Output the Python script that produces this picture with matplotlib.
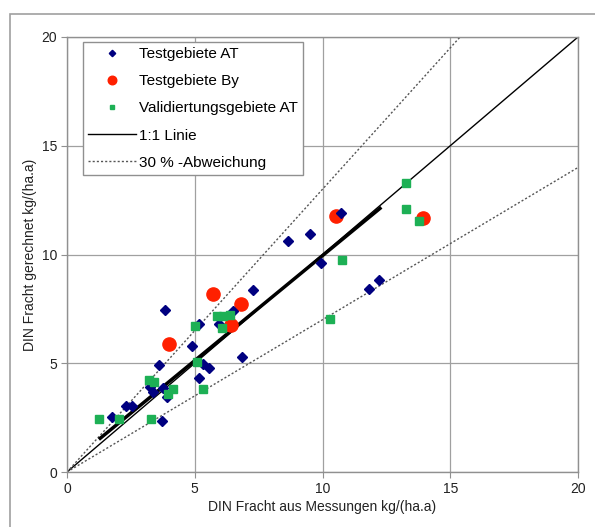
import numpy as np
import matplotlib
matplotlib.use('Agg')
import matplotlib.pyplot as plt
from matplotlib.patches import Rectangle

plt.rcParams['font.family'] = ['Liberation Sans', 'DejaVu Sans']

# Testgebiete AT (blue diamonds)
at_x = [8.66, 9.50, 7.29, 3.84, 6.51, 5.18, 5.95, 4.90, 6.86, 3.60, 5.34, 5.56,
        5.17, 3.77, 3.25, 3.38, 3.93, 2.30, 2.56, 1.77, 3.71, 10.72, 9.93, 12.22, 11.83]
at_y = [10.60, 10.93, 8.37, 7.45, 7.40, 6.80, 6.80, 5.79, 5.30, 4.93, 4.95, 4.77,
        4.31, 3.85, 3.92, 3.69, 3.46, 3.03, 3.03, 2.54, 2.36, 11.89, 9.60, 8.83, 8.40]

# Testgebiete By (red circles)
by_x = [5.73, 6.81, 6.42, 3.99, 10.51, 13.92]
by_y = [8.18, 7.72, 6.76, 5.89, 11.77, 11.69]

# Validiertungsgebiete AT (green squares)
val_x = [13.27, 13.25, 13.79, 10.76, 10.29, 5.01, 5.86, 6.12, 6.38, 6.08, 5.07,
         3.22, 3.42, 4.16, 3.97, 5.34, 1.26, 2.04, 3.27]
val_y = [13.27, 12.09, 11.54, 9.75, 7.03, 6.71, 7.17, 7.15, 7.22, 6.64, 5.07,
         4.24, 4.13, 3.82, 3.58, 3.80, 2.45, 2.45, 2.45]

# reference lines
line_x = [0, 20]
line_11 = [0, 20]
dev_up = [0, 26]
dev_low = [0, 14]

# regression segment (thick)
reg_x = [1.3, 12.25]
reg_y = [1.55, 12.12]

fig = plt.figure(figsize=(5.95, 5.27), dpi=100)
fig.patches.append(Rectangle((10 / 595, -0.05), 1.0, (527 - 14) / 527 + 0.05,
                             transform=fig.transFigure, fill=False,
                             edgecolor='#a0a0a0', linewidth=1.2))
ax = fig.add_axes([67 / 595, 55 / 527, 511 / 595, 435 / 527])

ax.plot(at_x, at_y, linestyle='none', marker='D', markersize=5,
        color='#000080', label='Testgebiete AT', zorder=4)
ax.plot(by_x, by_y, linestyle='none', marker='o', markersize=9.5,
        color='#ff2000', label='Testgebiete By', zorder=3)
ax.plot(val_x, val_y, linestyle='none', marker='s', markersize=5.5,
        color='#1db055', label='Validiertungsgebiete AT', zorder=5)
ax.plot(line_x, line_11, color='black', linewidth=1.0, label='1:1 Linie', zorder=2)
ax.plot(line_x, dev_up, color='#555555', linewidth=1.0, linestyle=(0, (1.5, 1.5)),
        label='30 % -Abweichung', zorder=2)
ax.plot(line_x, dev_low, color='#555555', linewidth=1.0, linestyle=(0, (1.5, 1.5)), zorder=2)
ax.plot(reg_x, reg_y, color='black', linewidth=2.5, zorder=2)

ax.set_xlim(0, 20)
ax.set_ylim(0, 20)
ax.set_xticks([0, 5, 10, 15, 20])
ax.set_yticks([0, 5, 10, 15, 20])
ax.grid(True, color='#a0a0a0', linewidth=0.9)
ax.set_axisbelow(True)
for s in ax.spines.values():
    s.set_color('#909090')
    s.set_linewidth(1.0)
ax.tick_params(direction='out', length=4, color='#909090', labelsize=10,
               labelcolor='#222222', pad=3)

ax.set_xlabel('DIN Fracht aus Messungen kg/(ha.a)', fontsize=10, color='#222222', labelpad=3)
ax.set_ylabel('DIN Fracht gerechnet kg/(ha.a)', fontsize=10, color='#222222', labelpad=3)

leg = ax.legend(loc='upper left', bbox_to_anchor=(0.031, 0.989), borderaxespad=0,
                fontsize=11, frameon=True, fancybox=False, framealpha=1,
                edgecolor='#909090', handlelength=3.1, handletextpad=0.2,
                labelspacing=0.86, borderpad=0.35, markerscale=0.65)
leg.get_frame().set_linewidth(1.0)

fig.savefig('out.png', dpi=100)
